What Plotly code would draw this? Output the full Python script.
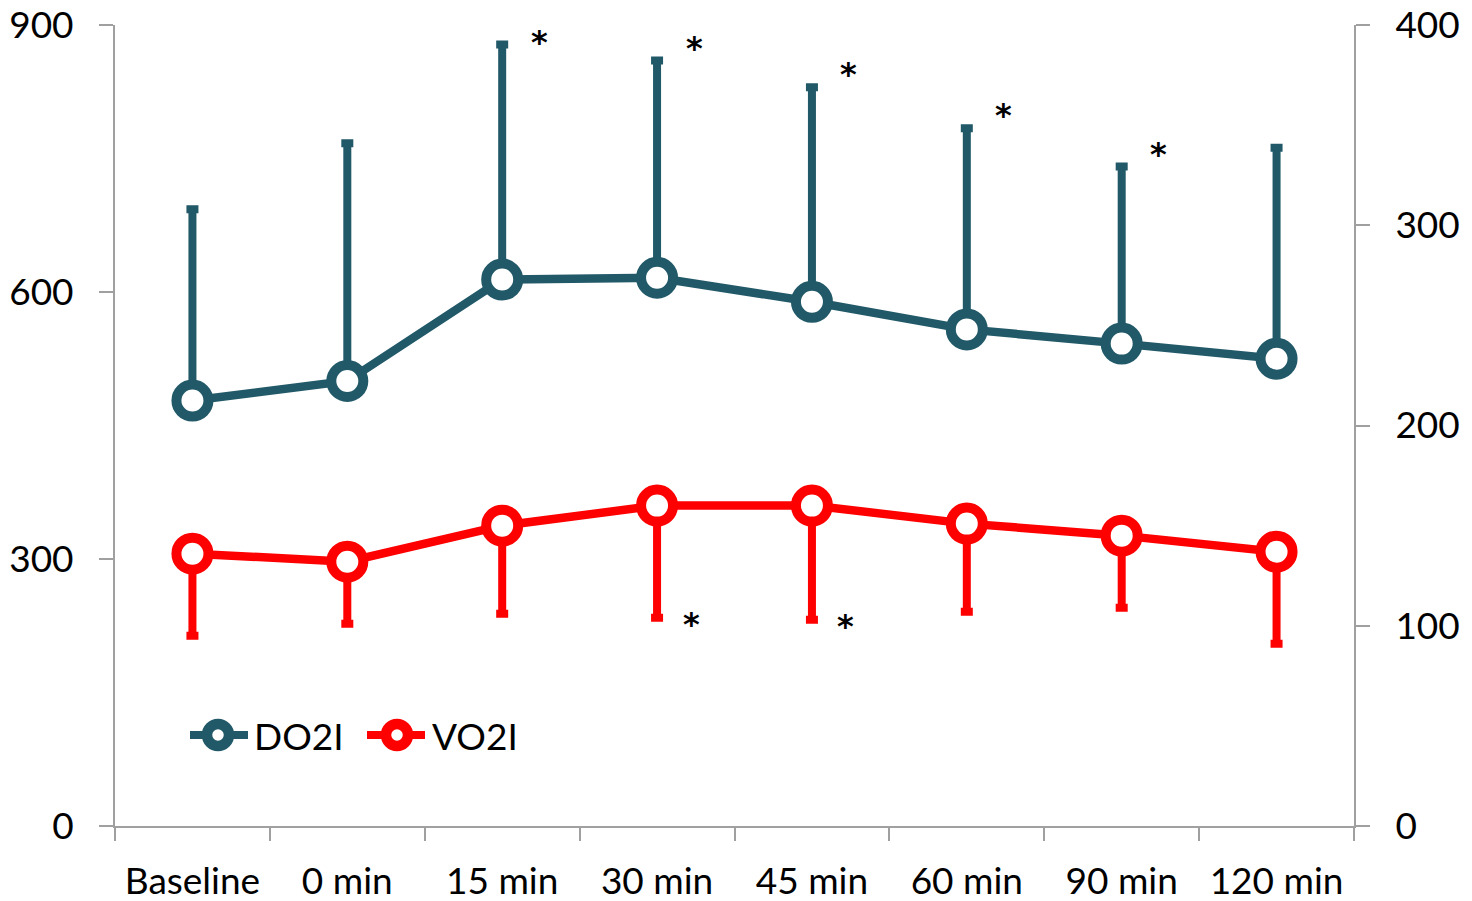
import plotly.graph_objects as go

# Time points
categories = ["Baseline", "0 min", "15 min", "30 min", "45 min", "60 min", "90 min", "120 min"]

# Oxygen delivery index (left axis): mean and upper SD
do2i_mean = [478, 500, 614, 616, 589, 558, 542, 525]
do2i_sd = [215, 267, 264, 244, 241, 226, 199, 237]

# Oxygen consumption index (right axis): mean and lower SD
vo2i_mean = [136, 132, 150, 160, 160, 151, 145, 137]
vo2i_sd = [41, 31, 44, 56, 57, 44, 36, 46]

# Time points flagged as significant for each series
do2i_sig = ["15 min", "30 min", "45 min", "60 min", "90 min"]
vo2i_sig = ["30 min", "45 min"]

TEAL = "#215968"
RED = "#FF0000"
AXIS = "#a0a0a0"
FONT = "Lato"
FS = 37
STAR_FONT = dict(family="DejaVu Sans", size=32, color="black")

W, H = 1472, 901
ML, MR, MT, MB = 115, 118, 25, 75

fig = go.Figure()

fig.add_trace(go.Scatter(
    x=categories, y=do2i_mean, name="DO2I", mode="lines+markers",
    line=dict(color=TEAL, width=8.5),
    marker=dict(size=32, color="white", line=dict(color=TEAL, width=10)),
    error_y=dict(type="data", symmetric=False, array=do2i_sd,
                 arrayminus=[0] * len(do2i_sd),
                 color=TEAL, thickness=8, width=6),
    yaxis="y", showlegend=False,
))

fig.add_trace(go.Scatter(
    x=categories, y=vo2i_mean, name="VO2I", mode="lines+markers",
    line=dict(color=RED, width=8.5),
    marker=dict(size=32, color="white", line=dict(color=RED, width=10)),
    error_y=dict(type="data", symmetric=False, array=[0] * len(vo2i_sd),
                 arrayminus=vo2i_sd,
                 color=RED, thickness=8, width=6),
    yaxis="y2", showlegend=False,
))

annotations = []
# Asterisks above the DO2I error bars
for c in do2i_sig:
    i = categories.index(c)
    top = do2i_mean[i] + do2i_sd[i]
    annotations.append(dict(
        x=c, y=min(top, 866), xref="x", yref="y", text="<b>*</b>", showarrow=False,
        xshift=37, yshift=13, yanchor="middle", font=STAR_FONT,
    ))
# Asterisks beside the VO2I error bars
for c in vo2i_sig:
    i = categories.index(c)
    bottom = vo2i_mean[i] - vo2i_sd[i]
    annotations.append(dict(
        x=c, y=bottom, xref="x", yref="y2", text="<b>*</b>", showarrow=False,
        xshift=34, yshift=-6, yanchor="middle", font=STAR_FONT,
    ))

# Hand-built legend with large line+marker symbols
pw, ph = W - ML - MR, H - MT - MB
def px(xp):
    return (xp - ML) / pw
def py(yp):
    return (H - MB - yp) / ph

shapes = []
legend_items = [("DO2I", TEAL, 190, 248, 218, 252), ("VO2I", RED, 367, 425, 397, 430)]
for label, col, lx0, lx1, cx, tx in legend_items:
    shapes.append(dict(type="line", xref="paper", yref="paper",
                       x0=px(lx0), x1=px(lx1), y0=py(735), y1=py(735),
                       line=dict(color=col, width=8)))
    shapes.append(dict(type="circle", xref="paper", yref="paper",
                       xsizemode="pixel", ysizemode="pixel",
                       xanchor=px(cx), yanchor=py(735),
                       x0=-11, x1=11, y0=-11, y1=11,
                       fillcolor="white", line=dict(color=col, width=10.5)))
    annotations.append(dict(x=px(tx), y=py(735), xref="paper", yref="paper",
                            text=label, showarrow=False, xanchor="left",
                            yanchor="middle",
                            font=dict(family=FONT, size=FS, color="black")))

axis_common = dict(
    showline=True, linecolor=AXIS, linewidth=2,
    ticks="outside", tickwidth=2, tickcolor=AXIS,
    showgrid=False, zeroline=False, automargin=False,
    tickfont=dict(family=FONT, size=FS),
)

fig.update_layout(
    width=W, height=H,
    margin=dict(l=ML, r=MR, t=MT, b=MB, autoexpand=False),
    paper_bgcolor="white", plot_bgcolor="white",
    font=dict(family=FONT, size=FS, color="black"),
    xaxis=dict(
        type="category", range=[-0.5, len(categories) - 0.5],
        ticklen=13, tickson="boundaries", ticklabelstandoff=22,
        **axis_common,
    ),
    yaxis=dict(
        range=[0, 900], dtick=300, tick0=0, ticklen=14, ticklabelstandoff=18,
        **axis_common,
    ),
    yaxis2=dict(
        range=[0, 400], dtick=100, tick0=0, overlaying="y", side="right",
        ticklen=14, ticklabelstandoff=18,
        **axis_common,
    ),
    shapes=shapes,
    annotations=annotations,
    showlegend=False,
)

fig.write_html("out.html")
